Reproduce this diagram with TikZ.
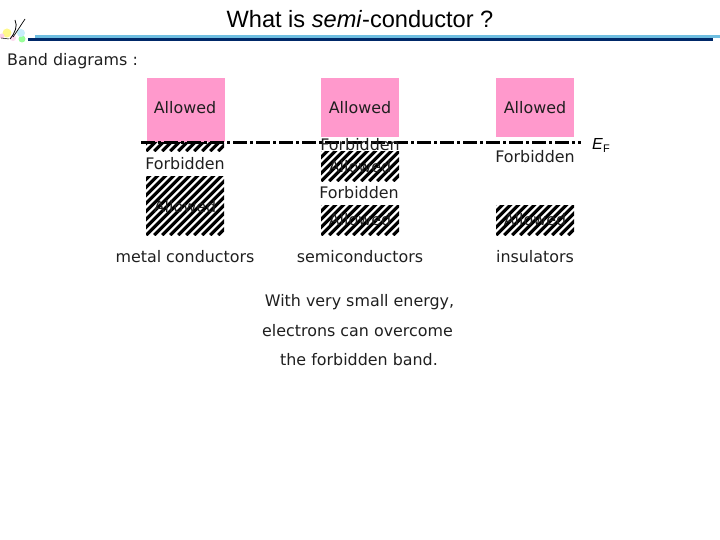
\documentclass[tikz,border=0pt]{standalone}
\usepackage{fontspec}
\setmainfont{DejaVu Sans}
\newfontfamily\arialf{Liberation Sans}
\definecolor{pinkband}{RGB}{255,153,204}
\definecolor{navyline}{RGB}{0,40,104}
\definecolor{skyline}{RGB}{110,190,225}
\tikzset{
 bandtext/.style={font=\fontsize{15.9}{19}\selectfont,inner sep=0pt,text=black!88},
 allowedbox/.style={fill=pinkband,draw=none,minimum width=77.5pt,inner sep=0pt,anchor=north west},
 hatchbox/.style={draw=none,minimum width=78pt,inner sep=0pt,anchor=north west,
  path picture={\foreach \k in {-120,-112,...,120}{
   \draw[black,line width=3.2pt] ([xshift=\k pt]path picture bounding box.south west) -- ++(130pt,130pt);}}},
}
\begin{document}
\begin{tikzpicture}[x=1pt,y=-1pt]
\useasboundingbox (0,0) rectangle (720,540);
% header
\fill[skyline] (35,35) rectangle (720,38);
\fill[navyline] (28,38) rectangle (713,41);
\node[font=\arialf\fontsize{23.6}{28}\selectfont,inner sep=0pt] (title) at (360,19) {What is \textit{semi}-conductor ?};
\node[bandtext,anchor=west] (head) at (7,61) {Band diagrams :};
% logo
\fill[yellow!45] (7,33) circle (4.5);
\fill[green!40] (22,39) circle (3.5);
\fill[cyan!22] (21,33) circle (4);
\fill[magenta!18] (2,36) circle (2.5);
\fill[magenta!15] (13,38) circle (3);
\draw[black,line width=0.8pt] (10,39) .. controls (15,33) and (18,26) .. (15,20);
\draw[black,line width=0.7pt] (13,37) .. controls (18,30) and (21,25) .. (25,19);
\draw[black,line width=0.5pt] (1,38) -- (9,39);
% metal
\node[allowedbox,minimum height=64pt] (a1) at (147,78) {};
\node[hatchbox,minimum height=9pt] (h1) at (146,142) {};
\node[hatchbox,minimum height=59pt] (h2) at (146,176) {};
% semi
\node[allowedbox,minimum height=59pt] (a2) at (321,78) {};
\node[hatchbox,minimum height=30pt] (h3) at (321,151) {};
\node[hatchbox,minimum height=30pt] (h4) at (321,205) {};
% insulator
\node[allowedbox,minimum height=59pt] (a3) at (496,78) {};
\node[hatchbox,minimum height=30pt] (h5) at (496,205) {};
% Fermi level
\coordinate (fl) at (141,142.5);
\coordinate (fr) at (581,142.5);
\draw[black,line width=3pt,dash pattern=on 14pt off 3pt on 3pt off 3pt] (fl) -- (fr);
\node[font=\arialf\fontsize{16}{18}\selectfont,inner sep=0pt,anchor=west] (ef) at (592,145) {\textit{E}\raisebox{-3pt}{\fontsize{11}{12}\selectfont F}};
% labels
\node[bandtext] (t1) at (185,108) {Allowed};
\node[bandtext] (t2) at (185,164) {Forbidden};
\node[bandtext] (t3) at (185,207) {Allowed};
\node[bandtext] (t4) at (185,257) {metal conductors};
\node[bandtext] (t5) at (360,108) {Allowed};
\node[bandtext] (t6) at (360,145) {Forbidden};
\node[bandtext] (t7) at (360,167) {Allowed};
\node[bandtext] (t8) at (359,193) {Forbidden};
\node[bandtext] (t9) at (360,220) {Allowed};
\node[bandtext] (t10) at (360,257) {semiconductors};
\node[bandtext] (t11) at (535,108) {Allowed};
\node[bandtext] (t12) at (535,157) {Forbidden};
\node[bandtext] (t13) at (535,220) {Allowed};
\node[bandtext] (t14) at (535,257) {insulators};
\node[bandtext] (c1) at (359.5,302) {With very small energy,};
\node[bandtext] (c2) at (357.5,330.5) {electrons can overcome};
\node[bandtext] (c3) at (359,359.5) {the forbidden band.};
\end{tikzpicture}
\end{document}
